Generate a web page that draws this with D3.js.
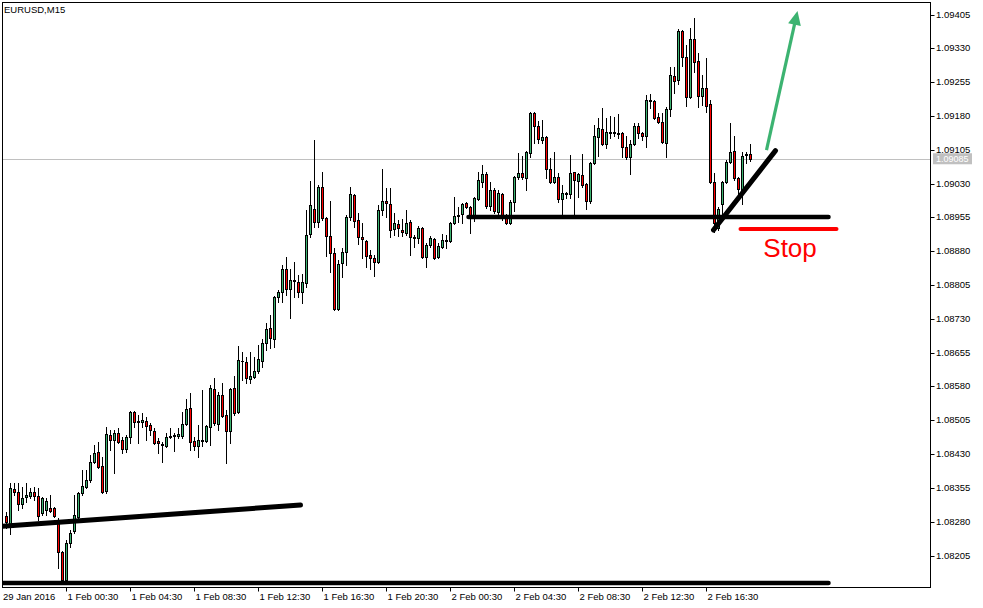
<!DOCTYPE html>
<html><head><meta charset="utf-8">
<script src="https://cdn.jsdelivr.net/npm/d3@7/dist/d3.min.js"></script>
<style>html,body{margin:0;padding:0;background:#fff;}svg{display:block;}</style>
</head><body>
<svg id="chart" width="983" height="608"></svg>
<script>
const symbolTitle = "EURUSD,M15";
const firstDateLabel = "29 Jan 2016";
const open = [1.08292,1.08268,1.08352,1.08346,1.08319,1.08335,1.08337,1.08346,1.08337,1.08299,1.08306,1.08310,1.08310,1.08284,1.08213,1.08151,1.08233,1.08259,1.08290,1.08344,1.08357,1.08372,1.08412,1.08435,1.08403,1.08348,1.08472,1.08461,1.08477,1.08461,1.08441,1.08468,1.08523,1.08503,1.08501,1.08503,1.08494,1.08481,1.08459,1.08452,1.08448,1.08468,1.08470,1.08470,1.08470,1.08497,1.08532,1.08459,1.08448,1.08459,1.08459,1.08490,1.08574,1.08497,1.08561,1.08517,1.08481,1.08576,1.08523,1.08637,1.08634,1.08596,1.08601,1.08614,1.08636,1.08676,1.08710,1.08685,1.08778,1.08789,1.08840,1.08796,1.08814,1.08811,1.08789,1.08809,1.08918,1.08973,1.08945,1.09022,1.08954,1.08914,1.08876,1.08752,1.08854,1.08878,1.08956,1.09004,1.08949,1.08911,1.08903,1.08871,1.08865,1.08856,1.08971,1.08991,1.08985,1.08929,1.08940,1.08927,1.08920,1.08945,1.08911,1.08909,1.08931,1.08867,1.08894,1.08907,1.08867,1.08889,1.08903,1.08903,1.08942,1.08958,1.08962,1.08987,1.08978,1.08954,1.08996,1.09033,1.09051,1.08980,1.09016,1.08967,1.09007,1.08960,1.08942,1.08989,1.09044,1.09053,1.09042,1.09098,1.09186,1.09158,1.09127,1.09133,1.09062,1.09033,1.09044,1.08996,1.09007,1.09007,1.09055,1.09036,1.09049,1.09029,1.08991,1.09075,1.09133,1.09151,1.09118,1.09142,1.09144,1.09142,1.09142,1.09111,1.09089,1.09118,1.09158,1.09142,1.09135,1.09215,1.09213,1.09178,1.09166,1.09120,1.09195,1.09268,1.09260,1.09368,1.09311,1.09222,1.09351,1.09302,1.09224,1.09242,1.09206,1.09033,1.08931,1.08985,1.09033,1.09078,1.09102,1.09042,1.09016,1.09093,1.09095];
const high = [1.08301,1.08366,1.08366,1.08366,1.08357,1.08366,1.08355,1.08357,1.08355,1.08335,1.08332,1.08339,1.08312,1.08288,1.08215,1.08239,1.08262,1.08339,1.08346,1.08395,1.08395,1.08428,1.08450,1.08457,1.08423,1.08490,1.08483,1.08483,1.08488,1.08468,1.08472,1.08525,1.08525,1.08517,1.08521,1.08512,1.08499,1.08488,1.08466,1.08457,1.08477,1.08488,1.08477,1.08488,1.08523,1.08552,1.08565,1.08468,1.08494,1.08572,1.08494,1.08583,1.08599,1.08568,1.08588,1.08528,1.08576,1.08603,1.08670,1.08656,1.08645,1.08656,1.08645,1.08672,1.08685,1.08721,1.08738,1.08780,1.08794,1.08849,1.08867,1.08840,1.08856,1.08827,1.08829,1.08971,1.09036,1.09127,1.09027,1.09056,1.08956,1.08991,1.08887,1.08860,1.08887,1.08960,1.09022,1.09007,1.08965,1.08942,1.08905,1.08883,1.08871,1.08982,1.09062,1.09020,1.09020,1.08965,1.08949,1.08951,1.08971,1.08949,1.08916,1.08936,1.08934,1.08898,1.08914,1.08909,1.08898,1.08918,1.08916,1.08945,1.09000,1.08978,1.08987,1.08989,1.08980,1.09000,1.09056,1.09071,1.09056,1.09033,1.09020,1.09016,1.09009,1.08962,1.08993,1.09046,1.09098,1.09091,1.09102,1.09188,1.09189,1.09169,1.09171,1.09135,1.09087,1.09100,1.09053,1.09027,1.09011,1.09093,1.09056,1.09053,1.09095,1.09031,1.09078,1.09160,1.09175,1.09197,1.09175,1.09180,1.09178,1.09184,1.09144,1.09135,1.09127,1.09164,1.09164,1.09144,1.09226,1.09229,1.09215,1.09186,1.09186,1.09200,1.09288,1.09288,1.09373,1.09371,1.09337,1.09375,1.09397,1.09319,1.09271,1.09308,1.09215,1.09053,1.08978,1.09036,1.09082,1.09164,1.09135,1.09044,1.09100,1.09100,1.09118];
const low = [1.08266,1.08253,1.08339,1.08306,1.08310,1.08324,1.08332,1.08328,1.08284,1.08295,1.08295,1.08301,1.08290,1.08177,1.08148,1.08148,1.08224,1.08255,1.08284,1.08339,1.08355,1.08368,1.08410,1.08399,1.08344,1.08344,1.08439,1.08388,1.08454,1.08432,1.08435,1.08454,1.08490,1.08454,1.08490,1.08461,1.08472,1.08452,1.08432,1.08412,1.08446,1.08466,1.08437,1.08466,1.08466,1.08494,1.08439,1.08439,1.08423,1.08448,1.08457,1.08450,1.08494,1.08483,1.08512,1.08410,1.08454,1.08517,1.08521,1.08594,1.08588,1.08588,1.08599,1.08610,1.08623,1.08661,1.08665,1.08667,1.08767,1.08767,1.08783,1.08732,1.08778,1.08778,1.08765,1.08800,1.08911,1.08934,1.08934,1.08949,1.08869,1.08834,1.08749,1.08749,1.08823,1.08849,1.08949,1.08934,1.08896,1.08865,1.08845,1.08840,1.08825,1.08854,1.08960,1.08956,1.08911,1.08916,1.08914,1.08914,1.08916,1.08871,1.08889,1.08898,1.08865,1.08845,1.08889,1.08863,1.08865,1.08887,1.08887,1.08900,1.08940,1.08945,1.08942,1.08976,1.08920,1.08947,1.08993,1.09022,1.08976,1.08971,1.08965,1.08960,1.08949,1.08940,1.08940,1.08969,1.09040,1.09040,1.09016,1.09089,1.09120,1.09120,1.09120,1.09042,1.09031,1.09031,1.08989,1.08960,1.08998,1.08998,1.08960,1.09000,1.09022,1.08973,1.08987,1.09073,1.09091,1.09115,1.09109,1.09131,1.09135,1.09131,1.09089,1.09084,1.09051,1.09115,1.09131,1.09127,1.09111,1.09197,1.09173,1.09164,1.09120,1.09089,1.09180,1.09231,1.09251,1.09291,1.09202,1.09220,1.09277,1.09200,1.09204,1.09189,1.09031,1.08922,1.08927,1.08956,1.09031,1.09075,1.09038,1.09004,1.08985,1.09075,1.09080];
const close = [1.08279,1.08355,1.08346,1.08319,1.08332,1.08339,1.08346,1.08337,1.08292,1.08332,1.08326,1.08304,1.08292,1.08213,1.08151,1.08233,1.08255,1.08295,1.08344,1.08359,1.08372,1.08412,1.08432,1.08401,1.08346,1.08474,1.08461,1.08477,1.08457,1.08441,1.08468,1.08523,1.08501,1.08501,1.08505,1.08492,1.08483,1.08454,1.08454,1.08450,1.08468,1.08470,1.08472,1.08474,1.08497,1.08530,1.08457,1.08448,1.08461,1.08461,1.08492,1.08576,1.08499,1.08561,1.08514,1.08481,1.08574,1.08521,1.08639,1.08636,1.08599,1.08603,1.08614,1.08641,1.08676,1.08707,1.08687,1.08778,1.08789,1.08840,1.08796,1.08816,1.08816,1.08789,1.08811,1.08916,1.08982,1.08945,1.09022,1.08954,1.08914,1.08876,1.08752,1.08851,1.08878,1.08956,1.09007,1.08947,1.08911,1.08907,1.08869,1.08865,1.08856,1.08971,1.08991,1.08987,1.08927,1.08942,1.08931,1.08922,1.08942,1.08911,1.08909,1.08931,1.08867,1.08894,1.08909,1.08865,1.08891,1.08905,1.08905,1.08942,1.08958,1.08960,1.08985,1.08978,1.08954,1.08998,1.09038,1.09051,1.08980,1.09016,1.08969,1.09009,1.08956,1.08942,1.08989,1.09044,1.09053,1.09044,1.09100,1.09186,1.09158,1.09129,1.09133,1.09062,1.09033,1.09044,1.08996,1.09009,1.09009,1.09053,1.09038,1.09051,1.09027,1.08991,1.09075,1.09135,1.09153,1.09118,1.09144,1.09144,1.09142,1.09140,1.09111,1.09089,1.09118,1.09158,1.09142,1.09135,1.09215,1.09213,1.09175,1.09166,1.09122,1.09195,1.09271,1.09257,1.09368,1.09311,1.09222,1.09351,1.09300,1.09224,1.09242,1.09202,1.09033,1.08942,1.08973,1.09033,1.09078,1.09100,1.09042,1.09018,1.09091,1.09095,1.09085];
const priceTicks = [1.08205,1.08280,1.08355,1.08430,1.08505,1.08580,1.08655,1.08730,1.08805,1.08880,1.08955,1.09030,1.09105,1.09180,1.09255,1.09330,1.09405];
const timeTickBars = [15,31,47,63,79,95,111,127,143,159,175];
const timeTickLabels = ["1 Feb 00:30","1 Feb 04:30","1 Feb 08:30","1 Feb 12:30","1 Feb 16:30","1 Feb 20:30","2 Feb 00:30","2 Feb 04:30","2 Feb 08:30","2 Feb 12:30","2 Feb 16:30"];
const lastPrice = 1.09085;
// drawn annotations (bar index, price)
const bottomLineBars = [-1, 205.5], bottomLinePrice = 1.08144;
const trendLineBars = [-1, 73.5], trendLinePrices = [1.08270, 1.08317];
const supportBars = [115.5, 205.5], supportPrice = 1.08956;
const riseLineBars = [176.75, 192.25], riseLinePrices = [1.08927, 1.09103];
const stopBars = [183.5, 207.5], stopPrice = 1.08929;
const stopLabel = "Stop", stopLabelBar = 189.2, stopLabelPrice = 1.08867;
const arrowBars = [190, 197.75], arrowPrices = [1.09104, 1.09413];

const font = "'Liberation Sans', Arial, sans-serif";
const GREEN = "#3cb371", RED = "#ff0000";
const L = 2.5, T = 2.5, R = 930.5, B = 587.5;

const svg = d3.select("#chart");
const x = d3.scaleLinear().domain([0, open.length - 1]).range([6.5, 6.5 + 4 * (open.length - 1)]);
const y = d3.scaleLinear().domain([1.08205, 1.09405]).range([555.5, 14.5]);
const py = v => Math.round(y(v)) + 0.5;

svg.append("defs").append("clipPath").attr("id", "plot")
  .append("rect").attr("x", L).attr("y", T).attr("width", R - L).attr("height", B - T);

// current price line
svg.append("line").attr("x1", L).attr("x2", R).attr("y1", py(lastPrice)).attr("y2", py(lastPrice))
  .attr("stroke", "#c0c0c0").attr("stroke-width", 1);

// candles
const bars = d3.range(open.length).map(i => ({i, o: open[i], h: high[i], l: low[i], c: close[i]}));
const g = svg.append("g").attr("clip-path", "url(#plot)");
g.selectAll("line.wick").data(bars).join("line").attr("class", "wick")
  .attr("x1", d => x(d.i)).attr("x2", d => x(d.i))
  .attr("y1", d => py(d.h) - 0.5).attr("y2", d => py(d.l) + 0.5)
  .attr("stroke", "#000").attr("stroke-width", 1);
bars.forEach(d => {
  const top = py(Math.max(d.o, d.c)), bot = py(Math.min(d.o, d.c));
  if (bot - top < 1) {
    g.append("line").attr("x1", x(d.i) - 1.5).attr("x2", x(d.i) + 1.5)
      .attr("y1", top).attr("y2", top).attr("stroke", "#000");
  } else {
    g.append("rect").attr("x", x(d.i) - 1).attr("width", 2)
      .attr("y", top).attr("height", bot - top)
      .attr("fill", d.c >= d.o ? GREEN : RED).attr("stroke", "#000").attr("stroke-width", 1);
  }
});

// annotations
const ann = svg.append("g").attr("clip-path", "url(#plot)");
ann.append("line").attr("x1", x(bottomLineBars[0])).attr("x2", x(bottomLineBars[1]))
  .attr("y1", y(bottomLinePrice)).attr("y2", y(bottomLinePrice))
  .attr("stroke", "#000").attr("stroke-width", 4.5).attr("stroke-linecap", "round");
ann.append("line").attr("x1", x(trendLineBars[0])).attr("x2", x(trendLineBars[1]))
  .attr("y1", y(trendLinePrices[0])).attr("y2", y(trendLinePrices[1]))
  .attr("stroke", "#000").attr("stroke-width", 5).attr("stroke-linecap", "round");
ann.append("line").attr("x1", x(supportBars[0])).attr("x2", x(supportBars[1]))
  .attr("y1", y(supportPrice)).attr("y2", y(supportPrice))
  .attr("stroke", "#000").attr("stroke-width", 4.5).attr("stroke-linecap", "round");
ann.append("line").attr("x1", x(riseLineBars[0])).attr("x2", x(riseLineBars[1]))
  .attr("y1", y(riseLinePrices[0])).attr("y2", y(riseLinePrices[1]))
  .attr("stroke", "#000").attr("stroke-width", 5).attr("stroke-linecap", "round");
ann.append("line").attr("x1", x(stopBars[0])).attr("x2", x(stopBars[1]))
  .attr("y1", y(stopPrice)).attr("y2", y(stopPrice))
  .attr("stroke", RED).attr("stroke-width", 4).attr("stroke-linecap", "round");
ann.append("text").attr("x", x(stopLabelBar)).attr("y", y(stopLabelPrice))
  .attr("font-family", font).attr("font-size", 26).attr("fill", RED).text(stopLabel);
{
  const x1 = x(arrowBars[0]), y1 = y(arrowPrices[0]), x2 = x(arrowBars[1]), y2 = y(arrowPrices[1]);
  const dx = x2 - x1, dy = y2 - y1, len = Math.hypot(dx, dy), ux = dx / len, uy = dy / len;
  const hl = 14, hw = 6.5;
  const bx = x2 - ux * hl, by = y2 - uy * hl;
  ann.append("line").attr("x1", x1).attr("y1", y1).attr("x2", bx + ux * 2).attr("y2", by + uy * 2)
    .attr("stroke", GREEN).attr("stroke-width", 3.2);
  ann.append("path").attr("d", `M${x2},${y2}L${bx - uy * hw},${by + ux * hw}L${bx + uy * hw},${by - ux * hw}Z`)
    .attr("fill", GREEN);
}

// frame
svg.append("rect").attr("x", L).attr("y", T).attr("width", R - L).attr("height", B - T)
  .attr("fill", "none").attr("stroke", "#000").attr("stroke-width", 1);

// price axis
const ya = svg.append("g");
ya.selectAll("line").data(priceTicks).join("line")
  .attr("x1", R).attr("x2", R + 4).attr("y1", d => py(d)).attr("y2", d => py(d)).attr("stroke", "#000");
ya.selectAll("text").data(priceTicks).join("text")
  .attr("x", R + 5.5).attr("y", d => py(d) - 0.5).attr("dy", "0.34em")
  .attr("font-family", font).attr("font-size", 9.5).attr("fill", "#000")
  .text(d => d.toFixed(5));
// last price tag
const lpY = y(lastPrice);
svg.append("rect").attr("x", R + 2.5).attr("y", lpY - 5.5).attr("width", 39).attr("height", 11).attr("fill", "#c0c0c0");
svg.append("text").attr("x", R + 5.5).attr("y", lpY + 0.5).attr("dy", "0.34em")
  .attr("font-family", font).attr("font-size", 9).attr("fill", "#fff").text(lastPrice.toFixed(5));

// time axis
const xa = svg.append("g");
xa.selectAll("line").data(timeTickBars).join("line")
  .attr("x1", d => x(d)).attr("x2", d => x(d)).attr("y1", B).attr("y2", B + 4).attr("stroke", "#000");
xa.selectAll("text").data(timeTickBars).join("text")
  .attr("x", d => x(d) + 1).attr("y", 600)
  .attr("font-family", font).attr("font-size", 9.5).attr("fill", "#000")
  .text((d, k) => timeTickLabels[k]);
svg.append("text").attr("x", 3).attr("y", 600).attr("font-family", font).attr("font-size", 9.5)
  .attr("fill", "#000").text(firstDateLabel);

// title
svg.append("text").attr("x", 4).attr("y", 13).attr("font-family", font).attr("font-size", 9.5)
  .attr("fill", "#000").text(symbolTitle);
</script>
</body></html>
